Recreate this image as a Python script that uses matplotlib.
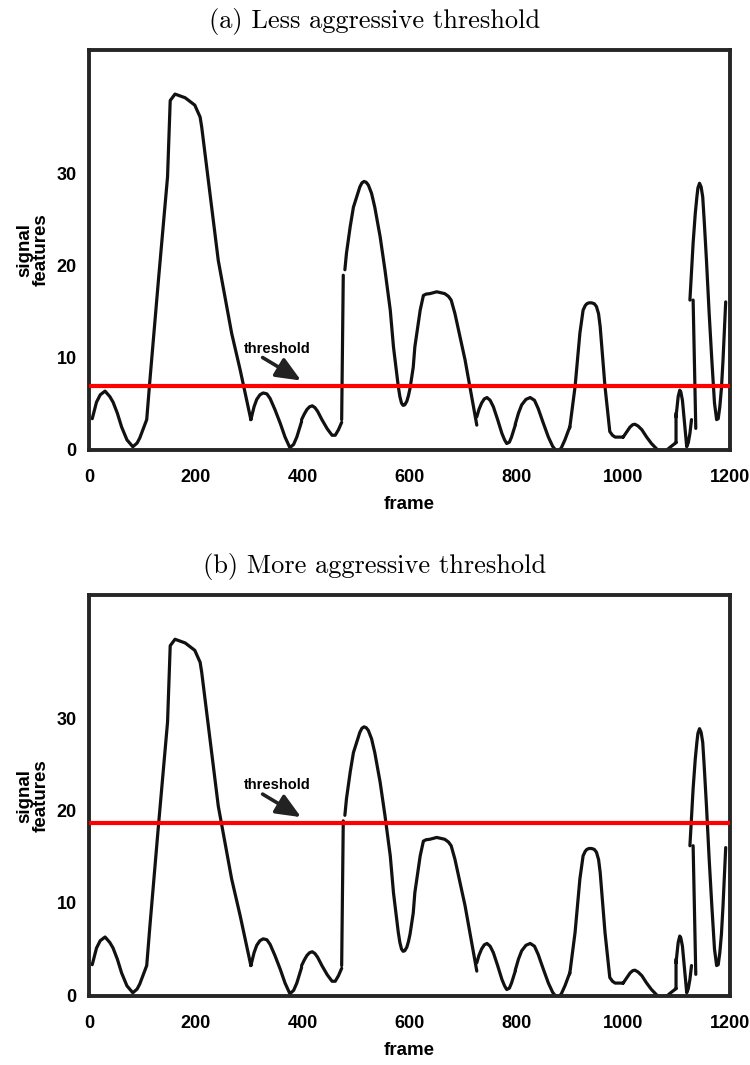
import numpy as np
import matplotlib
matplotlib.use('Agg')
import matplotlib.pyplot as plt

# Traced signal curve (frame, feature value); None = pen lifted
frame = [6, 14, 21, 30, 39, 45, 53, 61, 71, 82, 90, 95, 108, 114, 130, 147, 150, 152, 161, 180, 198, 208, 211, 242, 267, 283, 303, None,
         303, 309, 314, 320, 326, 333, 339, 348, 358, 367, 376, 383, 389, 398, None,
         398, 403, 408, 413, 418, 423, 428, 436, 446, 455, 461, 467, 473, None,
         473, 476, None,
         479, 482, 489, 495, 501, 507, 511, 515, 519, 523, 529, 535, 545, 554, 564, 570, 576, 579, 582, 585, 588, 591,
         595, 598, 601, 607, 610, 620, 626, 631, 638, 651, 666, 673, 678, 685, 704, 726, None,
         726, 730, 735, 740, 745, 751, 757, 765, 773, 778, 782, 787, 791, 798, None,
         798, 804, 810, 818, 826, 834, 841, 850, 860, 868, 876, 884, 891, 900, None,
         900, 910, 919, 925, 929, 932, 936, 941, 946, 950, 954, 957, 966, 975, 980, 985, 1000, None,
         1000, 1007, 1013, 1018, 1022, 1028, 1035, 1044, 1053, 1063, 1072, 1080, 1088, 1099, None,
         1099, 1099, None,
         1099, 1103, 1106, 1108, 1111, 1115, 1119, 1122, 1125, 1128, None,
         1136, 1131, None,
         1125, 1131, 1135, 1138, 1140, 1143, 1146, 1149, 1152, 1156, 1161, 1166, 1171, 1175, 1178, 1181, 1184, 1187, 1192]
signal = [3.3, 5.1, 5.9, 6.3, 5.7, 5.1, 3.9, 2.4, 1.0, 0.25, 0.65, 1.2, 3.2, 7.5, 18.4, 29.6, 34.7, 37.9, 38.6, 38.2, 37.4, 36.1, 35.0, 20.5, 12.6, 8.6, 3.2, None,
          3.2, 4.6, 5.4, 5.9, 6.1, 6.0, 5.5, 4.3, 2.8, 1.3, 0.15, 0.5, 1.3, 3.0, None,
          3.2, 3.8, 4.3, 4.6, 4.7, 4.5, 4.1, 3.2, 2.2, 1.5, 1.5, 2.1, 2.9, None,
          3.2, 18.9, None,
          19.5, 21.3, 24.2, 26.3, 27.4, 28.5, 28.95, 29.1, 29.0, 28.7, 27.8, 26.3, 23.1, 19.5, 15.1, 11.1, 8.2, 6.8, 5.7, 5.0, 4.75, 4.8,
          5.2, 5.8, 6.6, 8.9, 11.1, 15.1, 16.7, 16.85, 16.9, 17.1, 16.9, 16.6, 16.2, 14.75, 9.7, 2.6, None,
          3.5, 4.3, 5.0, 5.45, 5.6, 5.3, 4.6, 3.2, 1.7, 1.0, 0.6, 0.75, 1.3, 2.6, None,
          2.7, 3.9, 4.8, 5.4, 5.6, 5.3, 4.4, 2.9, 1.3, 0.3, -0.3, 0.1, 1.0, 2.4, None,
          2.3, 6.8, 12.6, 15.1, 15.6, 15.8, 15.9, 15.9, 15.8, 15.5, 14.7, 13.3, 6.8, 1.9, 1.5, 1.3, 1.3, None,
          1.3, 1.9, 2.4, 2.65, 2.7, 2.5, 2.1, 1.3, 0.6, 0.0, -0.4, -0.2, 0.2, 0.7, None,
          0.7, 3.9, None,
          3.5, 5.7, 6.4, 6.2, 5.3, 2.8, 0.25, 0.7, 1.7, 3.2, None,
          2.25, 16.2, None,
          16.2, 22.4, 25.6, 27.4, 28.4, 28.9, 28.5, 27.4, 24.6, 20.5, 14.8, 9.7, 5.0, 3.2, 3.3, 4.6, 6.6, 9.7, 16.0]

thresholds = [6.85, 18.7]
titles = ['(a) Less aggressive threshold', '(b) More aggressive threshold']
yticks = [0, 10, 20, 30]
xticks = [0, 200, 400, 600, 800, 1000, 1200]

x = np.array(frame, dtype=float)
y = np.array(signal, dtype=float)

fig = plt.figure(figsize=(7.5, 10.65), dpi=100)
axes = [fig.add_axes([0.1187, 0.5775, 0.8546, 0.3756]),
        fig.add_axes([0.1187, 0.0648, 0.8546, 0.3765])]

label_font = dict(family='Liberation Sans', weight='bold', size=13.5)

for i, ax in enumerate(axes):
    ax.plot(x, y, color='#111111', lw=2.3, solid_capstyle='round', solid_joinstyle='round')
    ax.axhline(thresholds[i], color='#ff0000', lw=3.0, zorder=3)

    ax.set_xlim(0, 1200)
    ax.set_ylim(-0.1, 43.4)
    ax.set_xticks(xticks)
    ax.set_yticks(yticks)
    ax.tick_params(length=0, labelsize=13)
    ax.tick_params(axis='x', pad=14)
    ax.tick_params(axis='y', pad=9)
    for lab in ax.get_xticklabels() + ax.get_yticklabels():
        lab.set_fontfamily('Liberation Sans')
        lab.set_fontweight('bold')
    for sp in ax.spines.values():
        sp.set_linewidth(2.8)
        sp.set_color('#262626')

    ax.set_xlabel('frame', labelpad=7, **label_font)
    ax.set_ylabel('signal\nfeatures', labelpad=5, linespacing=0.9, **label_font)
    ax.set_title(titles[i], fontfamily='cmr10', fontsize=19, pad=16, x=0.445)

    # threshold label with arrow
    ty = thresholds[i]
    ax.text(353, ty + 4.05, 'threshold', ha='center', va='center',
            family='Liberation Sans', weight='bold', fontsize=10.5)
    ax.annotate('', xy=(397, ty + 0.6), xytext=(325, ty + 3.1),
                arrowprops=dict(arrowstyle='-|>,head_length=0.75,head_width=0.32',
                                mutation_scale=20, lw=2.6, color='#222222',
                                shrinkA=0, shrinkB=0))

fig.savefig('out.png', dpi=100)
